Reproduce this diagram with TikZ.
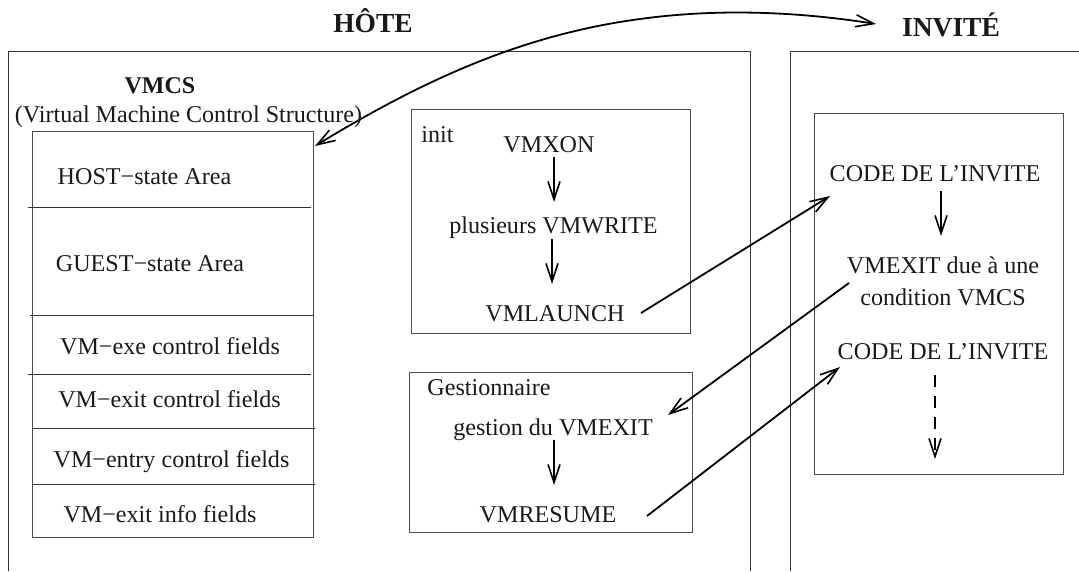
\documentclass[tikz,border=0pt]{standalone}
\usepackage{fontspec}
\setmainfont{Liberation Serif}
\usetikzlibrary{arrows.meta}
\tikzset{
  barb/.tip={Straight Barb[length=18pt,width=12pt,line width=1.6pt]},
  lab/.style={anchor=base,inner sep=0pt,outer sep=0pt,font=\fontsize{24.1pt}{26pt}\selectfont,text=black!90},
  title/.style={lab,font=\fontsize{27.5pt}{30pt}\selectfont\bfseries},
  boxs/.style={draw=black!70,line width=0.9pt,inner sep=0pt,outer sep=0pt,anchor=north west},
  rule/.style={draw=black!80,line width=0.9pt},
  conn/.style={draw=black,line width=1.8pt,-barb}
}
\begin{document}
\begin{tikzpicture}[x=1pt,y=-1pt]
\useasboundingbox (0,0) rectangle (1079,571);
% outer frames
\coordinate (hbl) at (8,571); \coordinate (htl) at (8,51); \coordinate (htr) at (750.5,51); \coordinate (hbr) at (750.5,571);
\coordinate (gbl) at (790.5,571); \coordinate (gtl) at (790.5,51); \coordinate (gtr) at (1079,51);
\draw[rule] (hbl) -- (htl) -- (htr) -- (hbr);
\draw[rule] (gbl) -- (gtl) -- (gtr);
% boxes
\node[boxs,minimum width=281pt,minimum height=406pt] (vmcs) at (32,131) {};
\node[boxs,minimum width=278.5pt,minimum height=224pt] (init) at (411.5,109) {};
\node[boxs,minimum width=283.5pt,minimum height=160.5pt] (gest) at (409,372) {};
\node[boxs,minimum width=248.5pt,minimum height=361pt] (code) at (814.5,113) {};
% VMCS rules
\coordinate (r1a) at (28,207); \coordinate (r1b) at (311,207);
\coordinate (r2a) at (30,315.5); \coordinate (r2b) at (313,315.5);
\coordinate (r3a) at (28,374); \coordinate (r3b) at (311,374);
\coordinate (r4a) at (32,428); \coordinate (r4b) at (315,428);
\coordinate (r5a) at (32,484); \coordinate (r5b) at (315,484);
\draw[rule] (r1a)--(r1b); \draw[rule] (r2a)--(r2b); \draw[rule] (r3a)--(r3b);
\draw[rule] (r4a)--(r4b); \draw[rule] (r5a)--(r5b);
% titles
\node[title] (hote) at (373,32.5) {HÔTE};
\node[title] (invite) at (951,36) {INVITÉ};
\node[lab,font=\fontsize{24pt}{26pt}\selectfont\bfseries] (vmcst) at (160,93) {VMCS};
\node[lab] (vmcsl) at (188.5,122.5) {(Virtual Machine Control Structure)};
\node[lab] (t1) at (144.5,184) {HOST−state Area};
\node[lab] (t2) at (150,271.5) {GUEST−state Area};
\node[lab] (t3) at (170,354) {VM−exe control fields};
\node[lab] (t4) at (169.5,407) {VM−exit control fields};
\node[lab] (t5) at (171.5,467) {VM−entry control fields};
\node[lab] (t6) at (160,522) {VM−exit info fields};
\node[lab] (initl) at (437.5,142) {init};
\node[lab] (vmxon) at (549,152) {VMXON};
\node[lab] (vmwrite) at (553.5,233) {plusieurs VMWRITE};
\node[lab] (vmlaunch) at (555,321) {VMLAUNCH};
\node[lab] (gestl) at (489,395) {Gestionnaire};
\node[lab] (gvmexit) at (553,435) {gestion du VMEXIT};
\node[lab] (vmresume) at (548,522) {VMRESUME};
\node[lab] (code1) at (935,181) {CODE DE L’INVITE};
\node[lab] (vmexit1) at (943,273) {VMEXIT due à une};
\node[lab] (vmexit2) at (943,305) {condition VMCS};
\node[lab] (code2) at (943,359) {CODE DE L’INVITE};
% connector ends
\coordinate (a1s) at (554,157); \coordinate (a1e) at (554,202);
\coordinate (a2s) at (552,239); \coordinate (a2e) at (552,284);
\coordinate (a3s) at (554,440); \coordinate (a3e) at (554,485);
\coordinate (a4s) at (941,191); \coordinate (a4e) at (941,236);
\coordinate (a5s) at (935,375); \coordinate (a5e) at (935,459);
\coordinate (b1s) at (641,313); \coordinate (b1e) at (830,196);
\coordinate (b2s) at (849,283); \coordinate (b2e) at (668,415);
\coordinate (b3s) at (647,516); \coordinate (b3e) at (840,367);
\coordinate (c0) at (315,146); \coordinate (cm) at (640,19); \coordinate (c1) at (876,24);
\draw[conn] (a1s)--(a1e);
\draw[conn] (a2s)--(a2e);
\draw[conn] (a3s)--(a3e);
\draw[conn,line width=1.4pt] (a4s)--(a4e);
\draw[conn,dash pattern=on 12pt off 9pt] (a5s)--(a5e);
\draw[conn] (b1s)--(b1e);
\draw[conn] (b2s)--(b2e);
\draw[conn] (b3s)--(b3e);
\draw[conn,barb-barb]
  (c0) .. controls (420,82) and (520,35) .. (cm) .. controls (720,8) and (800,12) .. (c1);
\end{tikzpicture}
\end{document}
